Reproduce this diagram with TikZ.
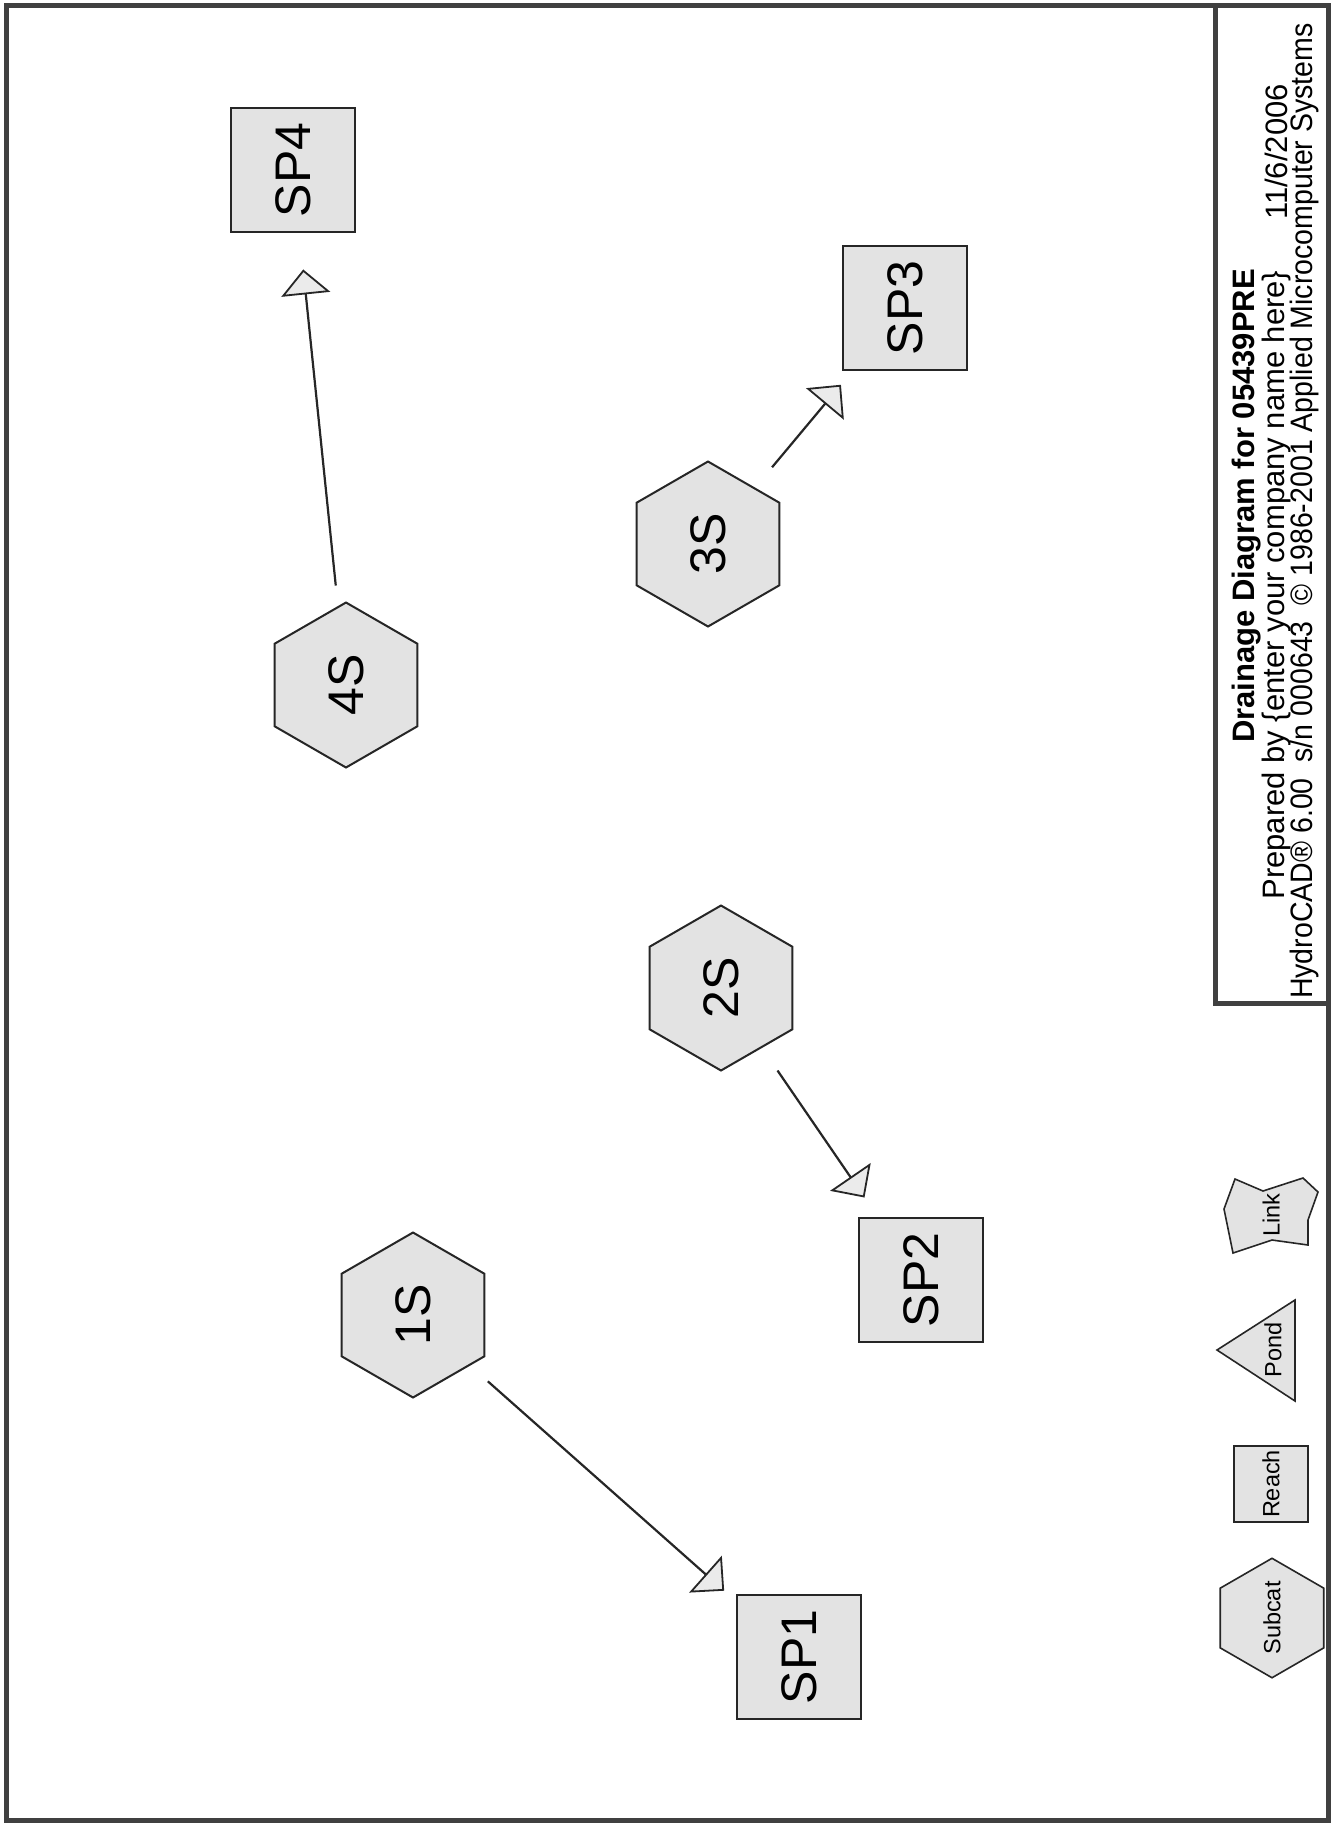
\documentclass[tikz,border=0pt]{standalone}
\usepackage{fontspec}
\setmainfont{Liberation Sans}
\usetikzlibrary{shapes.geometric,arrows.meta,calc}
\tikzset{
  subcat/.style={regular polygon, regular polygon sides=6, minimum size=82.5pt,
    inner sep=0pt, draw=black!85, line width=1pt, fill=black!11, rotate=90,
    font=\fontsize{25}{30}\selectfont},
  reachbox/.style={rectangle, minimum width=62pt, minimum height=62pt,
    inner sep=0pt, draw=black!85, line width=1pt, fill=black!11, rotate=90,
    font=\fontsize{25}{30}\selectfont},
  legendfont/.style={font=\fontsize{11.75}{14}\selectfont},
  legendshape/.style={draw=black!85, line width=0.8pt, fill=black!11, line join=miter},
  flow/.style={line width=1.1pt, draw=black!85,
    -{Triangle[length=12.5pt,width=24.5pt,fill=black!8,line width=0.9pt]}},
  frame/.style={draw=black!75, line width=2.5pt},
  titletext/.style={rotate=90, inner sep=0pt, font=\fontsize{15.5}{18}\selectfont},
}
\begin{document}
\begin{tikzpicture}[x=0.5pt,y=-0.5pt]
\useasboundingbox (0,0) rectangle (1331,1828);
\fill[white] (0,0) rectangle (1331,1828);
% frame and title block
\draw[frame] (6,5) rectangle (1328,1820);
\draw[frame] (1215,5) -- (1215,1003) -- (1328,1003);

% nodes
\node[reachbox] (SP4) at (293,170) {SP4};
\node[subcat] (4S) at (346,685) {4S};
\node[reachbox] (SP3) at (905,308) {SP3};
\node[subcat] (3S) at (708,544) {3S};
\node[subcat] (2S) at (721,988) {2S};
\node[reachbox] (SP2) at (921,1280) {SP2};
\node[subcat] (1S) at (413,1315) {1S};
\node[reachbox] (SP1) at (799,1657) {SP1};

% connectors
\draw[flow] ($(4S)!50pt!(SP4)$) -- ($(SP4)!50pt!(4S)$);
\draw[flow] ($(3S)!50pt!(SP3)$) -- ($(SP3)!50pt!(3S)$);
\draw[flow] ($(2S)!50pt!(SP2)$) -- ($(SP2)!50pt!(2S)$);
\draw[flow] ($(1S)!50pt!(SP1)$) -- ($(SP1)!50pt!(1S)$);

% legend
\node[subcat, minimum size=50.5pt, line width=0.8pt, legendfont] (lsub) at (1272,1618) {Subcat};
\node[reachbox, minimum width=38pt, minimum height=37pt, line width=0.8pt, legendfont] (lreach) at (1271,1484) {Reach};
\draw[legendshape] (1217,1350) -- (1295,1300) -- (1295,1401) -- cycle;
\node[rotate=90, inner sep=0pt, legendfont] (lpond) at (1273,1350) {Pond};
\draw[legendshape] (1235,1179) -- (1263,1191) -- (1303,1178) -- (1318,1192) -- (1308,1220)
  -- (1308,1245) -- (1272,1240) -- (1233,1253) -- (1224,1209) -- cycle;
\node[rotate=90, inner sep=0pt, legendfont] (llink) at (1271,1215) {Link};

% title block text
\node[titletext, font=\bfseries\fontsize{15.5}{18}\selectfont] (title) at (1247,506) {Drainage Diagram for 05439PRE};
\node[titletext] (prep) at (1276,585) {Prepared by \{enter your company name here\}};
\node[titletext] (date) at (1276,152) {11/6/2006};
\node[titletext] (hcad) at (1304,511) {\scalebox{0.92}[1]{HydroCAD® 6.00\ \ s/n 000643\ \ © 1986-2001 Applied Microcomputer Systems}};
\end{tikzpicture}
\end{document}
